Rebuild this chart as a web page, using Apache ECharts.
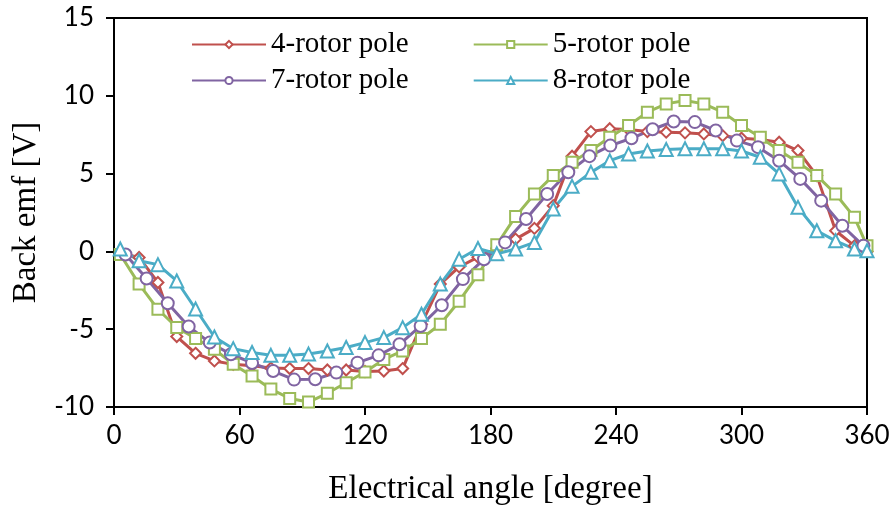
<!DOCTYPE html>
<html>
<head>
<meta charset="utf-8">
<title>Back emf</title>
<script src="https://cdn.jsdelivr.net/npm/echarts@6/dist/echarts.min.js"></script>
<style>
  html, body { margin: 0; padding: 0; background: #fff; }
  #chart { width: 895px; height: 511px; }
</style>
</head>
<body>
<div id="chart"></div>
<script>
// Sample angles (electrical degrees)
const angles9 = [3, 12, 21, 30, 39, 48, 57, 66, 75, 84, 93, 102, 111, 120, 129, 138, 147, 156, 165, 174,
  183, 192, 201, 210, 219, 228, 237, 246, 255, 264, 273, 282, 291, 300, 309, 318, 327, 336, 345, 354, 360];
const angles7 = [5.5, 15.6, 25.7, 35.7, 45.8, 55.9, 66.0, 76.1, 86.1, 96.2, 106.3, 116.4, 126.5, 136.5,
  146.6, 156.7, 166.8, 176.9, 187.0, 197.0, 207.1, 217.2, 227.3, 237.3, 247.4, 257.5, 267.6, 277.7,
  287.7, 297.8, 307.9, 318.0, 328.1, 338.1, 348.2, 358.3];

// Back emf [V]
const emf4 = [-0.1, -0.39, -2.0, -5.47, -6.55, -7.04, -7.26, -7.35, -7.5, -7.53, -7.53, -7.62, -7.62, -7.72,
  -7.69, -7.53, -4.68, -2.1, -1.0, -0.37, 0.2, 0.79, 1.48, 2.94, 6.12, 7.7, 7.88, 7.83, 7.7, 7.66, 7.62,
  7.55, 7.44, 7.27, 7.19, 7.02, 6.48, 4.87, 1.33, 0.36, 0.0];
const emf5 = [-0.2, -2.1, -3.72, -4.89, -5.6, -6.29, -7.26, -8.01, -8.85, -9.45, -9.68, -9.12, -8.44, -7.75,
  -6.94, -6.4, -5.6, -4.68, -3.2, -1.5, 0.43, 2.25, 3.69, 4.87, 5.73, 6.48, 7.34, 8.09, 8.95, 9.48, 9.7,
  9.48, 8.95, 8.09, 7.34, 6.48, 5.73, 4.87, 3.69, 2.19, 0.36];
const emf7 = [-0.2, -1.74, -3.33, -4.83, -5.86, -6.61, -7.17, -7.69, -8.24, -8.22, -7.79, -7.15, -6.68,
  -5.97, -4.79, -3.46, -1.78, -0.5, 0.58, 2.08, 3.69, 5.09, 6.12, 6.8, 7.27, 7.85, 8.35, 8.31, 7.77, 7.12,
  6.7, 5.83, 4.66, 3.26, 1.65, 0.36];
const emf8 = [0.15, -0.6, -0.85, -1.9, -3.7, -5.5, -6.25, -6.5, -6.68, -6.68, -6.6, -6.4, -6.18, -5.86,
  -5.54, -4.9, -4.04, -2.1, -0.5, 0.19, -0.15, 0.15, 0.58, 2.72, 4.18, 5.08, 5.83, 6.26, 6.45, 6.55, 6.6,
  6.6, 6.6, 6.45, 6.05, 4.98, 2.83, 1.33, 0.68, 0.15, 0.04];

const seriesNames = ['4-rotor pole', '5-rotor pole', '7-rotor pole', '8-rotor pole'];
const xTicks = [0, 60, 120, 180, 240, 300, 360];
const yTicks = [-10, -5, 0, 5, 10, 15];

const serif = '"Liberation Serif", "Times New Roman", serif';
const sans = 'Lato, "Liberation Sans", sans-serif';

function pairs(xs, ys) {
  return ys.map((v, i) => [xs[i], v]);
}

function lineSeries(name, color, symbol, size, xs, ys) {
  return {
    name: name,
    type: 'line',
    data: pairs(xs, ys),
    symbol: symbol,
    symbolSize: size,
    showAllSymbol: true,
    color: color,
    lineStyle: { color: color, width: 3 },
    itemStyle: { color: color, borderColor: color, borderWidth: 2 },
    emphasis: { disabled: true },
    animation: false
  };
}

const chart = echarts.init(document.getElementById('chart'), null, { renderer: 'canvas' });

const legendText = { fontFamily: serif, fontSize: 29, color: '#000' };

chart.setOption({
  animation: false,
  grid: {
    left: 114, right: 28, top: 18, bottom: 103,
    show: true, borderColor: '#000', borderWidth: 2, backgroundColor: 'transparent'
  },
  legend: [
    {
      data: [seriesNames[0], seriesNames[1]],
      left: 186, top: 25, orient: 'horizontal',
      itemWidth: 74, itemHeight: 9, itemGap: 64,
      textStyle: legendText, selectedMode: false
    },
    {
      data: [seriesNames[2], seriesNames[3]],
      left: 186, top: 61, orient: 'horizontal',
      itemWidth: 74, itemHeight: 9, itemGap: 64,
      textStyle: legendText, selectedMode: false
    }
  ],
  xAxis: {
    type: 'value',
    min: xTicks[0], max: xTicks[xTicks.length - 1], interval: 60,
    name: 'Electrical angle [degree]',
    nameLocation: 'middle', nameGap: 66,
    nameTextStyle: { fontFamily: serif, fontSize: 33, color: '#000' },
    axisLine: { show: true, onZero: false, lineStyle: { color: '#000', width: 2 } },
    axisTick: { show: true, inside: false, length: 8, lineStyle: { color: '#000', width: 2 } },
    axisLabel: { fontFamily: sans, fontSize: 26, color: '#000', margin: 16 },
    splitLine: { show: false }
  },
  yAxis: {
    type: 'value',
    min: yTicks[0], max: yTicks[yTicks.length - 1], interval: 5,
    name: 'Back emf [V]',
    nameLocation: 'middle', nameGap: 66,
    nameTextStyle: { fontFamily: serif, fontSize: 33, color: '#000' },
    axisLine: { show: true, onZero: false, lineStyle: { color: '#000', width: 2 } },
    axisTick: { show: true, inside: false, length: 8, lineStyle: { color: '#000', width: 2 } },
    axisLabel: { fontFamily: sans, fontSize: 26, color: '#000', margin: 20 },
    splitLine: { show: false }
  },
  series: [
    lineSeries(seriesNames[0], '#C0504D', 'emptyDiamond', 11, angles9, emf4),
    lineSeries(seriesNames[1], '#9BBB59', 'emptyRect', 11, angles9, emf5),
    lineSeries(seriesNames[2], '#8064A2', 'emptyCircle', 12, angles7, emf7),
    lineSeries(seriesNames[3], '#4BACC6', 'emptyTriangle', 13, angles9, emf8)
  ]
});
</script>
</body>
</html>
